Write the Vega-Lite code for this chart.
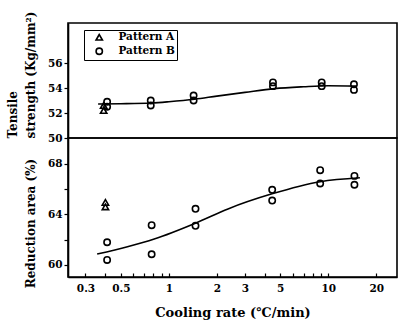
{
  "$schema": "https://vega.github.io/schema/vega-lite/v6.json",
  "autosize": "pad",
  "padding": {"left": 5, "top": 5, "right": 0, "bottom": 0},
  "background": "white",
  "spacing": 0,
  "bounds": "flush",
  "config": {
    "view": {"stroke": "black", "strokeWidth": 1.6},
    "font": "DejaVu Serif",
    "axis": {
      "labelFont": "DejaVu Serif", "labelFontWeight": "bold", "labelFontSize": 10.5, "labelColor": "black",
      "titleFont": "DejaVu Serif", "titleFontWeight": "bold", "titleFontSize": 12, "titleColor": "black",
      "domainColor": "black", "domainWidth": 1.6, "tickColor": "black", "tickWidth": 1.2, "grid": false
    }
  },
  "datasets": {
    "pts": [
      {"panel": "top", "pattern": "Pattern A", "rate": 0.39, "value": 52.2},
      {"panel": "top", "pattern": "Pattern A", "rate": 0.39, "value": 52.6},
      {"panel": "top", "pattern": "Pattern B", "rate": 0.41, "value": 52.9},
      {"panel": "top", "pattern": "Pattern B", "rate": 0.41, "value": 52.5},
      {"panel": "top", "pattern": "Pattern B", "rate": 0.77, "value": 53.0},
      {"panel": "top", "pattern": "Pattern B", "rate": 0.77, "value": 52.6},
      {"panel": "top", "pattern": "Pattern B", "rate": 1.43, "value": 53.4},
      {"panel": "top", "pattern": "Pattern B", "rate": 1.43, "value": 53.0},
      {"panel": "top", "pattern": "Pattern B", "rate": 4.5, "value": 54.45},
      {"panel": "top", "pattern": "Pattern B", "rate": 4.5, "value": 54.15},
      {"panel": "top", "pattern": "Pattern B", "rate": 9.1, "value": 54.45},
      {"panel": "top", "pattern": "Pattern B", "rate": 9.1, "value": 54.15},
      {"panel": "top", "pattern": "Pattern B", "rate": 14.5, "value": 54.3},
      {"panel": "top", "pattern": "Pattern B", "rate": 14.5, "value": 53.85},
      {"panel": "bottom", "pattern": "Pattern A", "rate": 0.4, "value": 64.95},
      {"panel": "bottom", "pattern": "Pattern A", "rate": 0.4, "value": 64.6},
      {"panel": "bottom", "pattern": "Pattern B", "rate": 0.41, "value": 61.8},
      {"panel": "bottom", "pattern": "Pattern B", "rate": 0.41, "value": 60.4},
      {"panel": "bottom", "pattern": "Pattern B", "rate": 0.78, "value": 63.15},
      {"panel": "bottom", "pattern": "Pattern B", "rate": 0.78, "value": 60.85},
      {"panel": "bottom", "pattern": "Pattern B", "rate": 1.47, "value": 64.45},
      {"panel": "bottom", "pattern": "Pattern B", "rate": 1.47, "value": 63.1},
      {"panel": "bottom", "pattern": "Pattern B", "rate": 4.45, "value": 65.95},
      {"panel": "bottom", "pattern": "Pattern B", "rate": 4.45, "value": 65.1},
      {"panel": "bottom", "pattern": "Pattern B", "rate": 8.9, "value": 67.5},
      {"panel": "bottom", "pattern": "Pattern B", "rate": 8.9, "value": 66.45},
      {"panel": "bottom", "pattern": "Pattern B", "rate": 14.6, "value": 67.05},
      {"panel": "bottom", "pattern": "Pattern B", "rate": 14.6, "value": 66.35}
    ],
    "curves": [
      {"panel": "top", "rate": 0.36, "value": 52.72},
      {"panel": "top", "rate": 0.5, "value": 52.74},
      {"panel": "top", "rate": 0.78, "value": 52.8},
      {"panel": "top", "rate": 1.0, "value": 52.9},
      {"panel": "top", "rate": 1.45, "value": 53.1},
      {"panel": "top", "rate": 2.0, "value": 53.35},
      {"panel": "top", "rate": 3.0, "value": 53.65},
      {"panel": "top", "rate": 4.6, "value": 53.95},
      {"panel": "top", "rate": 7.0, "value": 54.1},
      {"panel": "top", "rate": 10.0, "value": 54.18},
      {"panel": "top", "rate": 15.0, "value": 54.15},
      {"panel": "bottom", "rate": 0.355, "value": 60.87},
      {"panel": "bottom", "rate": 0.55, "value": 61.45},
      {"panel": "bottom", "rate": 0.81, "value": 62.06},
      {"panel": "bottom", "rate": 1.48, "value": 63.33},
      {"panel": "bottom", "rate": 2.35, "value": 64.44},
      {"panel": "bottom", "rate": 4.44, "value": 65.63},
      {"panel": "bottom", "rate": 8.9, "value": 66.59},
      {"panel": "bottom", "rate": 15.8, "value": 66.9}
    ]
  },
  "resolve": {"legend": {"shape": "independent"}},
  "vconcat": [
    {
      "width": 329,
      "height": 115,
      "encoding": {
        "x": {"field": "rate", "type": "quantitative", "scale": {"type": "log", "domain": [0.233, 27]}, "axis": null},
        "y": {
          "field": "value", "type": "quantitative",
          "scale": {"domain": [50, 59.2], "nice": false, "zero": false},
          "axis": {"values": [50, 52, 54, 56], "tickSize": 4, "labelPadding": 2, "labelOverlap": false,
            "title": ["Tensile", "strength  (Kg/mm²)"], "titleAnchor": "start", "titleAlign": "left", "titlePadding": 10, "titleLineHeight": 18}
        }
      },
      "layer": [
        {
          "data": {"name": "curves"},
          "transform": [{"filter": "datum.panel === 'top'"}],
          "mark": {"type": "line", "color": "black", "strokeWidth": 1.6, "interpolate": "monotone"}
        },
        {
          "data": {"name": "pts"},
          "transform": [{"filter": "datum.panel === 'top'"}],
          "mark": {"type": "point", "filled": false, "color": "black", "strokeWidth": 1.6, "size": 40, "opacity": 1},
          "encoding": {
            "shape": {
              "field": "pattern", "type": "nominal",
              "scale": {"domain": ["Pattern A", "Pattern B"], "range": ["triangle-up", "circle"]},
              "legend": {
                "title": null, "orient": "none", "legendX": 16, "legendY": 7,
                "strokeColor": "black", "padding": 2, "rowPadding": 0,
                "symbolOffset": 8, "labelOffset": 14,
                "labelFont": "DejaVu Serif", "labelFontWeight": "bold", "labelFontSize": 10.5, "labelColor": "black",
                "symbolStrokeColor": "black", "symbolStrokeWidth": 1.6, "symbolSize": 40, "symbolFillColor": "white"
              }
            }
          }
        }
      ]
    },
    {
      "width": 329,
      "height": 139,
      "encoding": {
        "x": {
          "field": "rate", "type": "quantitative",
          "scale": {"type": "log", "domain": [0.233, 27]},
          "axis": {
            "values": [0.3, 0.4, 0.5, 0.6, 0.7, 0.8, 0.9, 1, 2, 3, 4, 5, 6, 7, 8, 9, 10, 20],
            "labelExpr": "indexof([0.3,0.5,1,2,3,5,10,20], datum.value) >= 0 ? datum.label : ''",
            "format": "~g", "tickSize": -4, "labelPadding": 10, "labelOverlap": false,
            "title": "Cooling rate  (℃/min)", "titlePadding": 13, "titleFontSize": 13
          }
        },
        "y": {
          "field": "value", "type": "quantitative",
          "scale": {"domain": [59.05, 70.05], "nice": false, "zero": false},
          "axis": {"values": [60, 62, 64, 66, 68], "labelOverlap": false,
            "labelExpr": "datum.value % 4 === 0 ? datum.label : ''",
            "tickSize": 4, "labelPadding": 2,
            "title": "Reduction area (%)", "titlePadding": 10, "titleY": 85}
        }
      },
      "layer": [
        {
          "data": {"name": "curves"},
          "transform": [{"filter": "datum.panel === 'bottom'"}],
          "mark": {"type": "line", "color": "black", "strokeWidth": 1.6, "interpolate": "monotone"}
        },
        {
          "data": {"name": "pts"},
          "transform": [{"filter": "datum.panel === 'bottom'"}],
          "mark": {"type": "point", "filled": false, "color": "black", "strokeWidth": 1.6, "size": 40, "opacity": 1},
          "encoding": {
            "shape": {
              "field": "pattern", "type": "nominal",
              "scale": {"domain": ["Pattern A", "Pattern B"], "range": ["triangle-up", "circle"]},
              "legend": null
            }
          }
        }
      ]
    }
  ]
}
